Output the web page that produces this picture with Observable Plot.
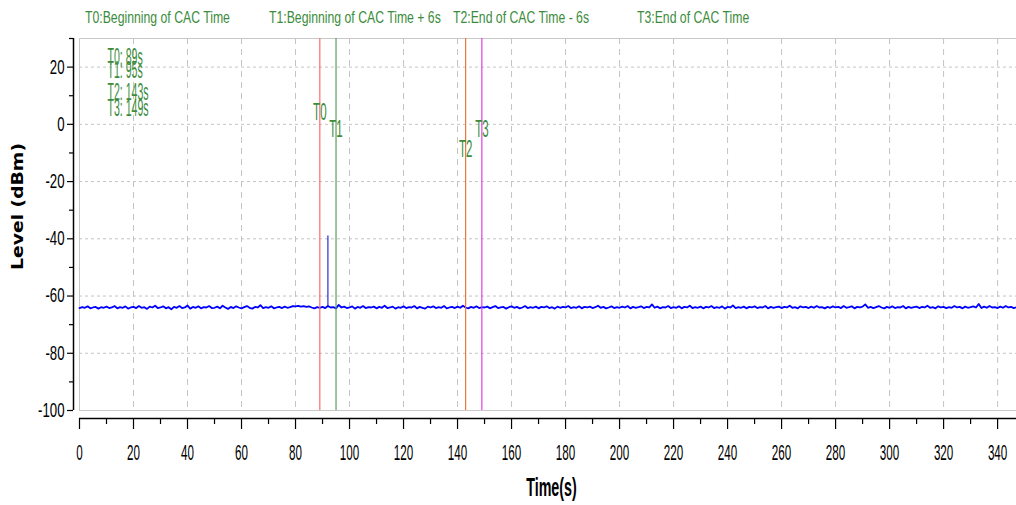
<!DOCTYPE html>
<html><head><meta charset="utf-8">
<script src="https://cdn.jsdelivr.net/npm/d3@7"></script>
<script src="https://cdn.jsdelivr.net/npm/@observablehq/plot@0.6"></script>
<style>
html,body{margin:0;padding:0;background:#fff;}
#wrap{position:relative;width:1016px;height:505px;overflow:hidden;font-family:"Liberation Sans",Arial,sans-serif;}
#legend{position:relative;height:30px;}
#legend span{position:absolute;top:9px;color:#3c8c3c;font-size:17px;line-height:17px;white-space:nowrap;transform-origin:0 0;transform:scaleX(0.72);}
svg{display:block}
</style></head><body><div id="wrap"><div id="legend"></div><div id="chart"></div></div>
<script>
// ---- data ----
const markerNames = ["T0", "T1", "T2", "T3"];
const markerTimes = [89, 95, 143, 149];
const markerDescriptions = ["Beginning of CAC Time", "Beginning of CAC Time + 6s", "End of CAC Time - 6s", "End of CAC Time"];
const markerLabelLevels = [4, -2, -9, -2];

const xTicks = [0, 20, 40, 60, 80, 100, 120, 140, 160, 180, 200, 220, 240, 260, 280, 300, 320, 340];
const xMinorTicks = [10, 30, 50, 70, 90, 110, 130, 150, 170, 190, 210, 230, 250, 270, 290, 310, 330];
const yTicks = [-100, -80, -60, -40, -20, 0, 20];
const yMinorTicks = [-90, -70, -50, -30, -10, 10, 30];

const spikeTime = 92;
const spikeBase = -64;
const spikePeak = -39;

const sampleStep = 1; // seconds between samples, starting at t = 0
const levels = [
-64.2,-63.9,-64.1,-63.6,-64.3,-64.0,-63.8,-64.4,-63.9,-64.1,
-63.7,-64.2,-64.0,-63.5,-64.3,-63.9,-64.1,-63.6,-64.4,-64.0,
-63.8,-64.2,-63.5,-64.1,-63.9,-64.5,-63.7,-64.0,-63.4,-64.2,
-64.0,-63.6,-64.3,-63.9,-64.6,-63.8,-64.1,-63.5,-64.2,-64.0,
-63.3,-64.4,-63.8,-64.1,-63.6,-64.3,-63.9,-64.0,-63.5,-64.2,
-64.1,-63.7,-64.3,-63.4,-64.0,-64.5,-63.8,-64.2,-63.6,-64.0,
-64.3,-63.9,-63.5,-64.1,-64.4,-63.8,-64.0,-63.2,-64.2,-63.9,
-64.1,-63.6,-64.3,-64.0,-63.8,-64.2,-63.7,-64.1,-63.9,-63.5,
-63.6,-63.4,-63.7,-63.5,-63.8,-63.6,-64.0,-64.3,-63.9,-64.1,
-63.8,-64.2,-63.5,-64.0,-63.9,-64.3,-63.1,-64.0,-63.7,-64.2,
-64.0,-63.6,-64.4,-63.8,-64.1,-63.5,-64.2,-63.9,-64.0,-63.7,
-64.3,-63.8,-64.1,-63.4,-64.2,-64.0,-63.7,-64.4,-63.9,-64.1,
-63.6,-64.2,-63.9,-64.0,-63.5,-64.3,-63.8,-64.1,-64.4,-63.7,
-64.0,-63.6,-64.2,-63.9,-64.1,-63.5,-64.3,-64.0,-63.8,-64.2,
-63.7,-64.1,-63.4,-64.0,-64.3,-63.8,-64.1,-63.6,-64.2,-63.9,
-64.0,-63.7,-64.3,-63.9,-63.5,-64.2,-64.0,-63.8,-64.4,-63.9,
-63.6,-64.1,-63.8,-64.3,-64.0,-63.5,-64.2,-63.9,-64.1,-63.7,
-64.3,-63.8,-64.0,-63.6,-64.2,-63.9,-64.4,-63.7,-64.1,-63.8,
-64.0,-63.5,-64.2,-63.9,-64.1,-63.6,-64.3,-63.8,-64.0,-63.7,
-64.2,-63.9,-63.4,-64.1,-63.8,-64.3,-64.0,-63.6,-64.2,-63.9,
-64.1,-63.7,-64.0,-63.5,-64.3,-63.8,-64.1,-63.9,-63.6,-64.2,
-63.8,-64.0,-62.9,-64.1,-63.7,-64.3,-63.9,-64.0,-63.5,-64.2,
-63.9,-64.1,-63.6,-64.3,-63.8,-64.0,-63.4,-64.2,-63.9,-64.1,
-63.7,-64.3,-63.8,-64.0,-63.5,-64.2,-63.9,-64.1,-63.6,-64.4,
-63.8,-64.0,-63.3,-64.2,-63.9,-64.1,-63.7,-64.3,-63.8,-64.0,
-63.6,-64.2,-63.9,-64.0,-63.5,-64.3,-63.8,-64.1,-63.9,-63.7,
-64.2,-63.8,-64.0,-63.4,-64.1,-63.9,-64.3,-63.6,-64.0,-63.8,
-64.2,-63.7,-64.1,-63.5,-64.0,-63.9,-64.3,-63.8,-64.1,-63.6,
-64.0,-63.8,-64.2,-63.5,-64.1,-63.9,-63.6,-64.3,-63.8,-64.0,
-63.7,-62.9,-64.1,-63.8,-64.2,-63.9,-63.5,-64.0,-64.3,-63.8,
-64.1,-63.6,-64.2,-63.9,-64.0,-63.5,-64.3,-63.8,-64.1,-63.9,
-63.7,-64.2,-63.8,-64.0,-63.4,-64.1,-63.9,-64.3,-63.6,-64.0,
-63.8,-64.2,-63.9,-64.1,-63.5,-64.0,-63.8,-64.3,-63.7,-64.1,
-63.9,-63.6,-64.0,-62.8,-64.2,-63.7,-64.1,-63.5,-64.0,-63.9,
-64.2,-63.7,-64.1,-63.5,-64.0,-63.8,-64.2,-63.9
];

// ---- styles ----
const markerColors = ["#ff6b6b", "#5a9e5a", "#e8763c", "#e43ee4"];
const labelGreen = "#3c8c3c";
const FONT = "'Liberation Sans', Arial, sans-serif";

// ---- legend (HTML, above the SVG) ----
const legend = document.getElementById("legend");
markerNames.forEach((n, i) => {
  const s = document.createElement("span");
  s.textContent = `${n}:${markerDescriptions[i]}`;
  s.style.left = (85 + i * 184) + "px";
  legend.appendChild(s);
});

// ---- tables ----
const signal = levels.map((v, i) => ({t: i * sampleStep, v}));
const markers = markerNames.map((n, i) => ({name: n, t: markerTimes[i], labelY: markerLabelLevels[i], color: markerColors[i]}));
const spike = [{t: spikeTime, base: spikeBase, peak: spikePeak}];
const annotDy = [19, 32, 54, 70];

const chart = Plot.plot({
  width: 1016, height: 475,
  marginLeft: 79, marginRight: 0, marginTop: 8, marginBottom: 95,
  style: {fontFamily: FONT, background: "#fff", color: "#000", overflow: "visible"},
  x: {domain: [0, 347], label: null},
  y: {domain: [-100, 30], label: null},
  marks: [
    Plot.gridX(xTicks.slice(1), {stroke: "#c4c4c4", strokeOpacity: 1, strokeDasharray: "6,5"}),
    Plot.gridY(yTicks.slice(1), {stroke: "#c4c4c4", strokeOpacity: 1, strokeDasharray: "3,3"}),
    Plot.frame({stroke: "#c8c8c8"}),
    Plot.line(signal, {x: "t", y: "v", stroke: "#0000ff", strokeWidth: 1.8}),
    Plot.ruleX(spike, {x: "t", y1: "base", y2: "peak", stroke: "#0000cc", strokeWidth: 1}),
    Plot.ruleX(markers, {x: "t", stroke: d => d.color, strokeWidth: 1.2}),
    Plot.text(markers, {x: "t", y: "labelY", text: "name", fill: labelGreen, fontSize: 23, fontFamily: "'cxm', " + FONT}),
    ...markers.map((d, i) => Plot.text([d], {frameAnchor: "top-left", dx: 28, dy: annotDy[i], lineAnchor: "middle", textAnchor: "start",
      text: m => `${m.name}: ${m.t}s`, fill: labelGreen, fontSize: 23, fontFamily: "'cxa', " + FONT})),
    // x axis
    Plot.ruleY([-100], {dy: 8, stroke: "#000", strokeWidth: 1.5}),
    Plot.axisX(xTicks, {anchor: "bottom", dy: 8, tickSize: 11, tickPadding: 15, fontSize: 22, tickFormat: d => String(d), label: null, stroke: "#000", strokeWidth: 1.2}),
    Plot.axisX(xMinorTicks, {anchor: "bottom", dy: 8, tickSize: 6, tickFormat: () => "", label: null, stroke: "#000", strokeWidth: 1.2}),
    // y axis
    Plot.ruleX([0], {dx: -6, stroke: "#000", strokeWidth: 1.5}),
    Plot.axisY(yTicks, {anchor: "left", dx: -6, tickSize: 6, tickPadding: 3, fontSize: 20, tickFormat: d => String(d), label: null, stroke: "#000", strokeWidth: 1.2}),
    Plot.axisY(yMinorTicks, {anchor: "left", dx: -6, tickSize: 4, tickFormat: () => "", label: null, stroke: "#000", strokeWidth: 1.2}),
    // axis titles
    Plot.text(["Time(s)"], {frameAnchor: "bottom", dx: 3.5, dy: 77, lineAnchor: "middle", textAnchor: "middle", text: d => d, fontSize: 26, fontWeight: "bold", fill: "#000", fontFamily: "'cxt', " + FONT}),
    Plot.text(["Level (dBm)"], {frameAnchor: "left", dx: -61, dy: -18, rotate: -90, lineAnchor: "middle", textAnchor: "middle", text: d => d, fontSize: 15, fontWeight: "bold", fill: "#000", fontFamily: "'cxy', 'DejaVu Sans', sans-serif"})
  ]
});
document.getElementById("chart").appendChild(chart);

// horizontally condense text (scale along the text's own x axis) to mimic the narrow fonts of the original
function condense(sel, sx) {
  sel.each(function () {
    const t = d3.select(this);
    t.attr("transform", `${t.attr("transform") || ""} scale(${sx},1)`);
  });
}
const svg = d3.select(chart);
condense(svg.selectAll('g[aria-label="x-axis tick label"] text'), 0.53);
condense(svg.selectAll('g[aria-label="y-axis tick label"] text'), 0.66);
condense(svg.selectAll('g[font-family*="cxm"] text'), 0.5);
condense(svg.selectAll('g[font-family*="cxa"] text'), 0.46);
condense(svg.selectAll('g[font-family*="cxt"] text'), 0.55);
condense(svg.selectAll('g[font-family*="cxy"] text'), 1.25);
</script></body></html>
